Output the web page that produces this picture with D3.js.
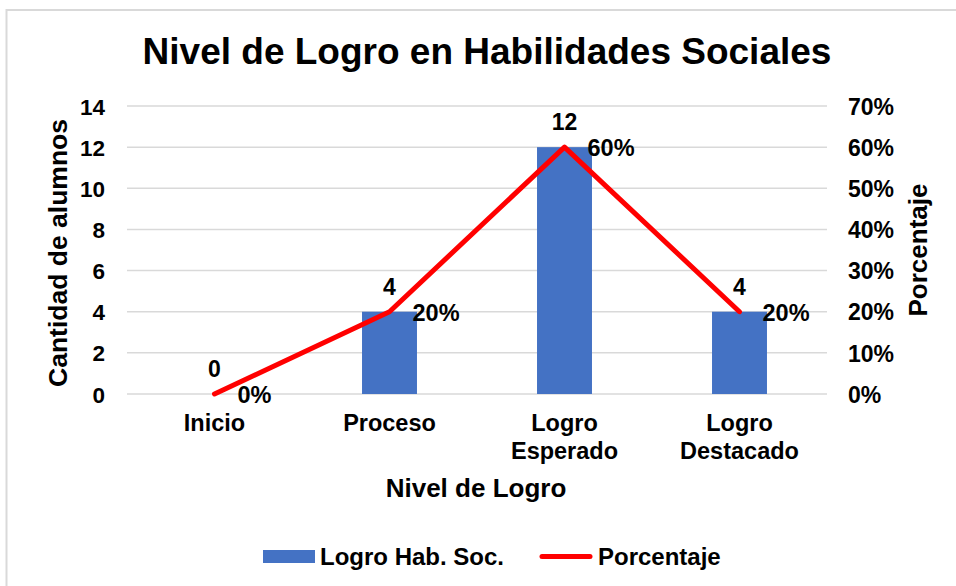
<!DOCTYPE html>
<html>
<head>
<meta charset="utf-8">
<script src="https://cdn.jsdelivr.net/npm/d3@7"></script>
<style>
  html, body { margin: 0; padding: 0; background: #fff; }
  svg text { font-family: "Liberation Sans", Arial, sans-serif; font-weight: bold; fill: #000; }
</style>
</head>
<body>
<div id="chart"></div>
<script>
// ---- data ----
const categories = [['Inicio'], ['Proceso'], ['Logro', 'Esperado'], ['Logro', 'Destacado']];
const alumnos = [0, 4, 12, 4];
const porcentaje = [0, 0.2, 0.6, 0.2];
const leftTicks = [0, 2, 4, 6, 8, 10, 12, 14];
const rightTicks = [0, 0.1, 0.2, 0.3, 0.4, 0.5, 0.6, 0.7];

const width = 956, height = 586;
const margin = { top: 106, right: 129, bottom: 192, left: 127 };
const innerW = width - margin.left - margin.right;
const innerH = height - margin.top - margin.bottom;

const svg = d3.select('#chart').append('svg')
  .attr('width', width)
  .attr('height', height);

// outer frame (right/bottom edges fall outside the picture)
svg.append('rect')
  .attr('x', 6.5).attr('y', 10)
  .attr('width', 980).attr('height', 600)
  .attr('fill', 'none')
  .attr('stroke', '#d9d9d9')
  .attr('stroke-width', 2);

svg.append('text')
  .attr('x', 487).attr('y', 64)
  .attr('text-anchor', 'middle')
  .attr('font-size', 37)
  .text('Nivel de Logro en Habilidades Sociales');

const g = svg.append('g').attr('transform', `translate(${margin.left},${margin.top})`);

const keys = categories.map(c => c.join(' '));
const x = d3.scaleBand().domain(keys).range([0, innerW]).paddingInner(0.686).paddingOuter(0.343);
const y = d3.scaleLinear().domain([0, 14]).range([innerH, 0]);
const y2 = d3.scaleLinear().domain([0, 0.7]).range([innerH, 0]);
const cx = i => x(keys[i]) + x.bandwidth() / 2;

// gridlines
g.append('g')
  .selectAll('line')
  .data(leftTicks)
  .join('line')
  .attr('x1', 0).attr('x2', innerW)
  .attr('y1', d => y(d)).attr('y2', d => y(d))
  .attr('stroke', '#d9d9d9')
  .attr('stroke-width', 1.5);

// left axis
const yAxis = g.append('g')
  .call(d3.axisLeft(y).tickValues(leftTicks).tickSize(0).tickPadding(22));
yAxis.select('.domain').remove();
yAxis.selectAll('text').attr('font-size', 22.5).attr('dy', '0.36em');

// right axis
const yAxis2 = g.append('g')
  .attr('transform', `translate(${innerW},0)`)
  .call(d3.axisRight(y2).tickValues(rightTicks).tickFormat(d3.format('.0%')).tickSize(0).tickPadding(21));
yAxis2.select('.domain').remove();
yAxis2.selectAll('text').attr('font-size', 23).attr('dy', '0.36em');

// x labels
const xl = g.append('g')
  .selectAll('text')
  .data(categories)
  .join('text')
  .attr('x', (d, i) => cx(i))
  .attr('y', innerH + 37)
  .attr('text-anchor', 'middle')
  .attr('font-size', 23.5);
xl.selectAll('tspan')
  .data(d => d)
  .join('tspan')
  .attr('x', function () { return d3.select(this.parentNode).attr('x'); })
  .attr('dy', (d, i) => i === 0 ? 0 : 28)
  .text(d => d);

// bars
g.append('g')
  .selectAll('rect')
  .data(alumnos)
  .join('rect')
  .attr('x', (d, i) => x(keys[i]))
  .attr('y', d => y(d))
  .attr('width', x.bandwidth())
  .attr('height', d => innerH - y(d))
  .attr('fill', '#4472c4');

// bar labels
g.append('g')
  .selectAll('text')
  .data(alumnos)
  .join('text')
  .attr('x', (d, i) => cx(i))
  .attr('y', d => y(d) - 17)
  .attr('text-anchor', 'middle')
  .attr('font-size', 23)
  .text(d => d);

// line
const line = d3.line()
  .x((d, i) => cx(i))
  .y(d => y2(d));
g.append('path')
  .datum(porcentaje)
  .attr('d', line)
  .attr('fill', 'none')
  .attr('stroke', '#ff0000')
  .attr('stroke-width', 5)
  .attr('stroke-linejoin', 'round')
  .attr('stroke-linecap', 'round');

// line labels
g.append('g')
  .selectAll('text')
  .data(porcentaje)
  .join('text')
  .attr('x', (d, i) => cx(i) + 23)
  .attr('y', d => y2(d) + 9)
  .attr('font-size', 23.5)
  .text(d3.format('.0%'));

// axis titles
svg.append('text')
  .attr('transform', 'translate(67,253) rotate(-90)')
  .attr('text-anchor', 'middle')
  .attr('font-size', 26.5)
  .text('Cantidad de alumnos');

svg.append('text')
  .attr('transform', 'translate(927,250) rotate(-90)')
  .attr('text-anchor', 'middle')
  .attr('font-size', 26)
  .text('Porcentaje');

svg.append('text')
  .attr('x', 476).attr('y', 497)
  .attr('text-anchor', 'middle')
  .attr('font-size', 26)
  .text('Nivel de Logro');

// legend
const legend = svg.append('g');
legend.append('rect')
  .attr('x', 263).attr('y', 550).attr('width', 52).attr('height', 13)
  .attr('fill', '#4472c4');
legend.append('text')
  .attr('x', 320).attr('y', 565)
  .attr('font-size', 24)
  .text('Logro Hab. Soc.');
legend.append('line')
  .attr('x1', 542).attr('x2', 590).attr('y1', 556.5).attr('y2', 556.5)
  .attr('stroke', '#ff0000').attr('stroke-width', 5).attr('stroke-linecap', 'round');
legend.append('text')
  .attr('x', 598).attr('y', 565)
  .attr('font-size', 24)
  .text('Porcentaje');
</script>
</body>
</html>
